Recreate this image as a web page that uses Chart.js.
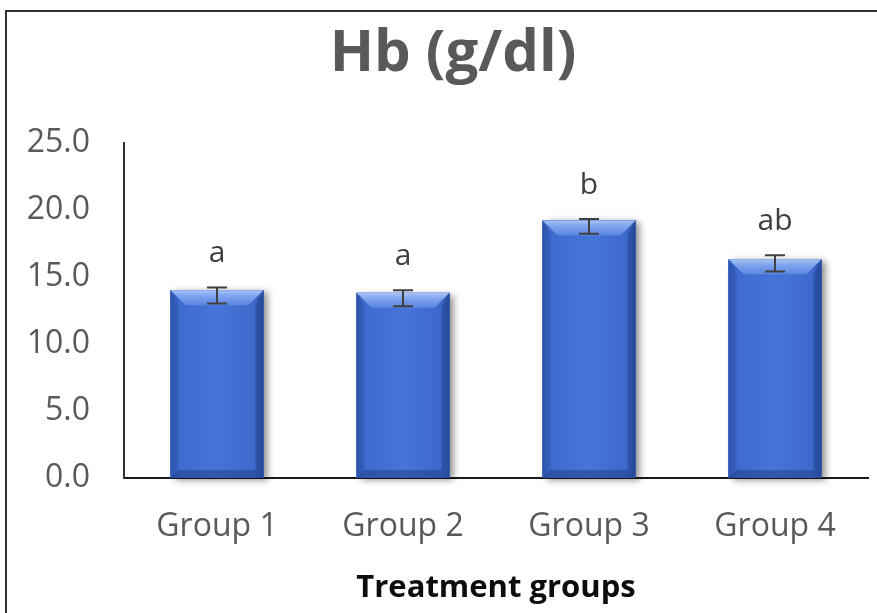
<!DOCTYPE html>
<html>
<head>
<meta charset="utf-8">
<script src="https://cdn.jsdelivr.net/npm/chart.js@4.4.0/dist/chart.umd.min.js"></script>
<style>
  body { margin: 0; background: #fff; overflow: hidden; }
  #frame { position: absolute; left: 5px; top: 10px; width: 920px; height: 640px; border: 2px solid #333; box-sizing: border-box; }
  #wrap { position: absolute; left: 0; top: 0; width: 906px; height: 613px; }
</style>
</head>
<body>
<div id="frame"></div>
<div id="wrap"><canvas id="myChart"></canvas></div>
<script>
// data
const groups = ["Group 1", "Group 2", "Group 3", "Group 4"];
const hb = [14.0, 13.8, 19.2, 16.3];
const errHigh = [14.2, 14.0, 19.3, 16.6];
const errLow = [13.0, 12.8, 18.2, 15.4];
const letters = ["a", "a", "b", "ab"];
const yTicks = [0, 5, 10, 15, 20, 25];

const FONT = "'Open Sans', sans-serif";

// title in the original sits a bit right of the canvas middle
const titleShift = {
  id: "titleShift",
  afterLayout(chart) {
    if (chart.titleBlock) chart.titleBlock.left = 38;
  },
};

// shadow behind the bars + bevel over them
const bevelPlugin = {
  id: "bevel",
  beforeDatasetsDraw(chart) {
    const ctx = chart.ctx;
    const meta = chart.getDatasetMeta(0);
    ctx.save();
    meta.data.forEach((bar) => {
      const l = bar.x - bar.width / 2;
      ctx.shadowColor = "rgba(0,0,0,0.45)";
      ctx.shadowBlur = 7;
      ctx.shadowOffsetX = 4;
      ctx.shadowOffsetY = 2;
      ctx.fillStyle = "#3a64c0";
      ctx.fillRect(l, bar.y, bar.width, bar.base - bar.y);
    });
    ctx.restore();
  },
  afterDatasetsDraw(chart) {
    const ctx = chart.ctx;
    const meta = chart.getDatasetMeta(0);
    meta.data.forEach((bar) => {
      const l = bar.x - bar.width / 2;
      const r = bar.x + bar.width / 2;
      const t = bar.y;
      const b = bar.base;
      const bv = 15;
      ctx.save();
      // body gradient
      let g = ctx.createLinearGradient(l, 0, r, 0);
      g.addColorStop(0, "#2f58b2");
      g.addColorStop(0.1, "#3e6bcf");
      g.addColorStop(0.5, "#4674d8");
      g.addColorStop(0.9, "#3d69cc");
      g.addColorStop(1, "#2c52a6");
      ctx.fillStyle = g;
      ctx.fillRect(l, t, r - l, b - t);
      // top bevel
      g = ctx.createLinearGradient(0, t, 0, t + bv);
      g.addColorStop(0, "#a7c3f6");
      g.addColorStop(0.4, "#7ea3ee");
      g.addColorStop(1, "#5a86de");
      ctx.fillStyle = g;
      ctx.beginPath();
      ctx.moveTo(l, t);
      ctx.lineTo(r, t);
      ctx.lineTo(r - bv, t + bv);
      ctx.lineTo(l + bv, t + bv);
      ctx.closePath();
      ctx.fill();
      // side bevels
      ctx.fillStyle = "rgba(40,75,160,0.3)";
      ctx.beginPath();
      ctx.moveTo(l, t);
      ctx.lineTo(l + 8, t + bv);
      ctx.lineTo(l + 8, b - 8);
      ctx.lineTo(l, b);
      ctx.closePath();
      ctx.fill();
      ctx.fillStyle = "rgba(25,55,125,0.35)";
      ctx.beginPath();
      ctx.moveTo(r, t);
      ctx.lineTo(r - 8, t + bv);
      ctx.lineTo(r - 8, b - 8);
      ctx.lineTo(r, b);
      ctx.closePath();
      ctx.fill();
      // bottom bevel
      ctx.fillStyle = "rgba(30,60,135,0.5)";
      ctx.beginPath();
      ctx.moveTo(l, b);
      ctx.lineTo(r, b);
      ctx.lineTo(r - 8, b - 8);
      ctx.lineTo(l + 8, b - 8);
      ctx.closePath();
      ctx.fill();
      ctx.restore();
    });
  },
};

// error bars + letters
const errorPlugin = {
  id: "errorBars",
  afterDatasetsDraw(chart) {
    const ctx = chart.ctx;
    const y = chart.scales.y;
    const meta = chart.getDatasetMeta(0);
    ctx.save();
    meta.data.forEach((bar, i) => {
      const yt = y.getPixelForValue(errHigh[i]);
      const yb = y.getPixelForValue(errLow[i]);
      ctx.strokeStyle = "#404040";
      ctx.lineWidth = 2;
      ctx.beginPath();
      ctx.moveTo(bar.x, yt);
      ctx.lineTo(bar.x, yb);
      ctx.moveTo(bar.x - 10, yt);
      ctx.lineTo(bar.x + 10, yt);
      ctx.moveTo(bar.x - 10, yb);
      ctx.lineTo(bar.x + 10, yb);
      ctx.stroke();
      ctx.fillStyle = "#404040";
      ctx.font = "30px " + FONT;
      ctx.textAlign = "center";
      ctx.textBaseline = "middle";
      ctx.fillText(letters[i], bar.x, yt - 34);
    });
    ctx.restore();
  },
};

const ctx = document.getElementById("myChart");
const myChart = new Chart(ctx, {
  type: "bar",
  data: {
    labels: groups,
    datasets: [
      {
        label: "Hb (g/dl)",
        data: hb,
        backgroundColor: "#3c69cc",
        barPercentage: 0.5,
        categoryPercentage: 1,
      },
    ],
  },
  plugins: [titleShift, bevelPlugin, errorPlugin],
  options: {
    responsive: true,
    maintainAspectRatio: false,
    animation: false,
    layout: { padding: { left: 0, right: 38, top: 0, bottom: 0 } },
    plugins: {
      legend: { display: false },
      tooltip: { enabled: false },
      title: {
        display: true,
        text: "Hb (g/dl)",
        color: "#595959",
        font: { family: FONT, size: 58, weight: "bold" },
        padding: { top: 20, bottom: 53 },
      },
    },
    scales: {
      x: {
        grid: { display: false, drawTicks: false },
        border: { display: true, color: "#1a1a1a", width: 2 },
        ticks: {
          color: "#595959",
          font: { family: FONT, size: 32 },
          padding: 30,
        },
        title: {
          display: true,
          text: "Treatment groups",
          color: "#0d0d0d",
          font: { family: FONT, size: 31, weight: "bold" },
          padding: { top: 8, bottom: 6 },
        },
        afterFit(scale) {
          scale.height = 135;
        },
      },
      y: {
        min: 0,
        max: 25,
        afterBuildTicks(scale) {
          scale.ticks = yTicks.map((v) => ({ value: v }));
        },
        grid: { display: false, drawTicks: false },
        border: { display: true, color: "#333", width: 2 },
        ticks: {
          color: "#595959",
          font: { family: FONT, size: 32 },
          padding: 34,
          callback: (v) => Number(v).toFixed(1),
        },
        afterFit(scale) {
          scale.width = 124;
        },
      },
    },
  },
});
</script>
</body>
</html>
